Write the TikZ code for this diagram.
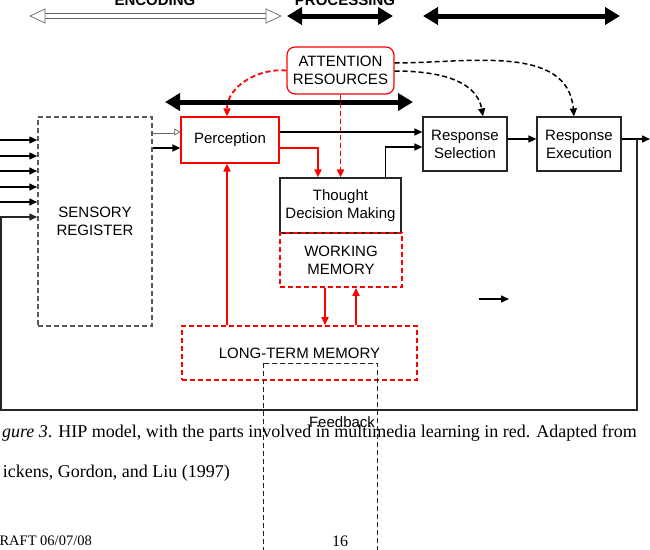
\documentclass[tikz,border=0pt]{standalone}
\usepackage{fontspec}
\setmainfont{Liberation Serif}
\setsansfont{Liberation Sans}
\usetikzlibrary{arrows.meta}

\begin{document}
\begin{tikzpicture}[x=1pt,y=-1pt,
    lbl/.style={font=\sffamily\fontsize{15}{18}\selectfont,align=center,inner sep=0pt},
    blackbox/.style={lbl,draw=black!85,line width=1.2pt},
    redbox/.style={lbl,draw=red,line width=1.2pt},
    reddash/.style={lbl,draw=red,line width=1.8pt,dash pattern=on 5pt off 3pt},
    greydash/.style={lbl,draw=black!65,line width=1.5pt,dash pattern=on 5pt off 3pt},
    conn/.style={line width=1.5pt,-{Triangle[length=8pt,width=7pt]}},
    redconn/.style={conn,draw=red,line width=1.8pt},
    attnline/.style={conn,dash pattern=on 5pt off 3pt},
    bigarrow/.style={line width=5pt,{Triangle[length=15pt,width=17pt]}-{Triangle[length=15pt,width=17pt]}},
    hollow/.style={draw=black!60,line width=0.7pt,fill=white},
    head/.style={font=\sffamily\bfseries\fontsize{15}{18}\selectfont,inner sep=0pt},
    capt/.style={font=\fontsize{18}{22}\selectfont,inner sep=0pt},
    pagetext/.style={font=\fontsize{14.5}{17}\selectfont,inner sep=0pt}]
  \useasboundingbox (0,0) rectangle (650,549);
  \clip (0,0) rectangle (650,549);

  % stage labels and bars
  \node[head,anchor=base] (enc) at (155,5) {ENCODING};
  \node[head,anchor=base] (proc) at (345,5) {PROCESSING};
  \draw[hollow] (43,13.5) rectangle (268,18.5);
  \draw[hollow] (45,9) -- (30,16) -- (45,23) -- cycle;
  \draw[hollow] (266,9) -- (281,16) -- (266,23) -- cycle;
  \coordinate (p1) at (287,16); \coordinate (p2) at (393,16);
  \coordinate (r1) at (423,16); \coordinate (r2) at (620,16);
  \coordinate (m1) at (165,102); \coordinate (m2) at (413,102);
  \draw[bigarrow] (p1) -- (p2);
  \draw[bigarrow] (r1) -- (r2);

  % boxes
  \node[greydash,minimum width=114pt,minimum height=209pt] (sensory) at (95,221.5) {SENSORY\\REGISTER};
  \node[redbox,minimum width=98pt,minimum height=46pt] (percep) at (230,140) {Perception};
  \node[redbox,rounded corners=8pt,minimum width=107pt,minimum height=47pt] (attn) at (340.5,70.5) {ATTENTION\\RESOURCES};
  \node[blackbox,minimum width=84pt,minimum height=54pt] (rsel) at (465,144) {Response\\Selection};
  \node[blackbox,minimum width=84pt,minimum height=54pt] (rexe) at (579,144) {Response\\Execution};
  \node[blackbox,minimum width=121pt,minimum height=55pt] (thought) at (340.5,205.5) {Thought\\Decision Making};
  \node[reddash,minimum width=122pt,minimum height=54pt] (wm) at (341,260) {WORKING\\MEMORY};
  \node[reddash,minimum width=235pt,minimum height=54pt] (ltm) at (299.5,353) {LONG-TERM MEMORY};

  \draw[redconn,dash pattern=on 5pt off 3pt] (attn.west) to[out=175,in=90] ([xshift=-3pt]percep.north);
  \draw[bigarrow] (m1) -- (m2);

  % inputs
  \foreach \y [count=\i] in {140,156,171,187,202} {
    \coordinate (in\i) at (0,\y);
    \draw[conn] (in\i) -- (in\i -| sensory.west);
  }

  % sensory register to perception
  \draw[black!60,line width=0.6pt,double=white,double distance=1.8pt,shorten >=6pt]
    ([yshift=8pt]percep.west -| sensory.east) -- ([yshift=8pt]percep.west);
  \draw[black!60,line width=0.7pt,-{Triangle[open,length=6pt,width=7pt]}]
    ([yshift=8pt,xshift=-6pt]percep.west) -- ([yshift=8pt]percep.west);
  \draw[conn] ([yshift=-8pt]percep.west -| sensory.east) -- ([yshift=-8pt]percep.west);

  % processing flow
  \draw[conn] ([yshift=8pt]percep.east) -- ([yshift=8pt]percep.east -| rsel.west);
  \draw[redconn] ([yshift=-8pt]percep.east) -| ([xshift=-22.5pt]thought.north);
  \draw[redconn,dash pattern=on 5pt off 3pt] (attn.south) -- (attn.south |- thought.north);
  \draw[conn] ([xshift=45pt]thought.north) |- ([yshift=-3pt]rsel.west);
  \draw[conn] ([yshift=5pt]rsel.east) -- ([yshift=5pt]rexe.west);
  \draw[attnline] ([yshift=7.5pt]attn.east) to[out=0,in=95] ([xshift=-5pt]rexe.north);
  \draw[attnline] ([yshift=-0.5pt]attn.east) to[out=0,in=100] ([xshift=18pt]rsel.north);

  % memory
  \draw[redconn] ([xshift=-3pt]percep.south |- ltm.north) -- ([xshift=-3pt]percep.south);
  \draw[redconn] ([xshift=-16pt]wm.south) -- ([xshift=-16pt]wm.south |- ltm.north);
  \draw[redconn] ([xshift=15pt]wm.south |- ltm.north) -- ([xshift=15pt]wm.south);

  % feedback loop
  \coordinate (outR) at (650,139);
  \coordinate (tap) at (637,139);
  \coordinate (loopBR) at (637,410);
  \coordinate (loopBL) at (1,410);
  \coordinate (loopTL) at (1,217);
  \draw[conn] ([yshift=5pt]rexe.east) -- (outR);
  \draw[conn,black!85] (tap) -- (loopBR) -- (loopBL) -- (loopTL) -- (loopTL -| sensory.west);
  \draw[black!85,line width=1pt,dash pattern=on 5pt off 3pt] (263,363) rectangle (377,560);
  \node[lbl] (fbk) at (342,422) {Feedback};
  \coordinate (lone1) at (479,299); \coordinate (lone2) at (509,299);
  \draw[conn] (lone1) -- (lone2);

  % page text
  \node[capt,anchor=base east] (cap1) at (637,437) {\textit{gure 3}. HIP model, with the parts involved in multimedia learning in red. Adapted from};
  \node[capt,anchor=base east] (cap2) at (230,477) {ickens, Gordon, and Liu (1997)};
  \node[pagetext,anchor=base east] (cap3) at (92,545) {RAFT 06/07/08};
  \node[pagetext,font=\fontsize{16}{19}\selectfont,anchor=base] (pgno) at (340,546) {16};
\end{tikzpicture}
\end{document}
